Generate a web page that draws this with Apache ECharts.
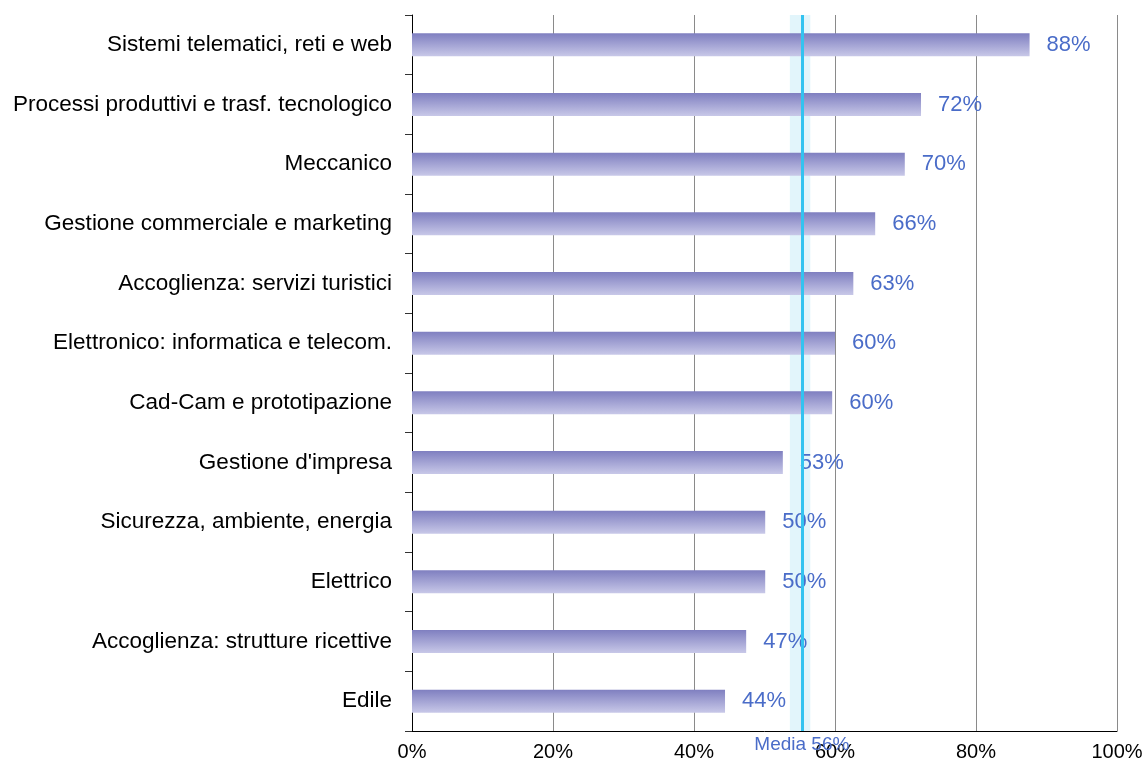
<!DOCTYPE html>
<html>
<head>
<meta charset="utf-8">
<script src="https://cdn.jsdelivr.net/npm/echarts@6/dist/echarts.min.js"></script>
<style>
  html, body { margin: 0; padding: 0; background: #fff; }
  #chart { width: 1142px; height: 762px; }
</style>
</head>
<body>
<div id="chart"></div>
<script>
  // dati
  const categories = [
    'Sistemi telematici, reti e web',
    'Processi produttivi e trasf. tecnologico',
    'Meccanico',
    'Gestione commerciale e marketing',
    'Accoglienza: servizi turistici',
    'Elettronico: informatica e telecom.',
    'Cad-Cam e prototipazione',
    "Gestione d'impresa",
    'Sicurezza, ambiente, energia',
    'Elettrico',
    'Accoglienza: strutture ricettive',
    'Edile'
  ]
  const values = [87.6, 72.2, 69.9, 65.7, 62.6, 60.0, 59.6, 52.6, 50.1, 50.1, 47.4, 44.4]
  const xTicks = [0, 20, 40, 60, 80, 100]
  const mediaValue = 55.3
  const mediaLabel = 'Media 56%'
  const mediaBand = [53.6, 56.5]

  const font = 'Liberation Sans, Arial, sans-serif'
  const chart = echarts.init(document.getElementById('chart'))

  chart.setOption({
      animation: false,
      grid: {
          left: 412,
          right: 25,
          top: 15,
          bottom: 31,
          containLabel: false,
          outerBoundsMode: 'none'
      },
      xAxis: {
          type: 'value',
          min: xTicks[0],
          max: xTicks[xTicks.length - 1],
          interval: 20,
          axisLine: { show: true, lineStyle: { color: '#000', width: 1 } },
          axisTick: { show: false },
          axisLabel: {
              color: '#000',
              fontFamily: font,
              fontSize: 20,
              margin: 11,
              formatter: v => v + '%'
          },
          splitLine: { show: true, lineStyle: { color: '#8a8a8a', width: 1 } }
      },
      yAxis: {
          type: 'category',
          inverse: true,
          data: categories,
          axisLine: { show: true, lineStyle: { color: '#000', width: 1 } },
          axisTick: { show: true, length: 7, lineStyle: { color: '#333' } },
          axisLabel: {
              color: '#000',
              fontFamily: font,
              fontSize: 22.5,
              margin: 20
          }
      },
      series: [{
          type: 'bar',
          data: values,
          barWidth: 23,
          itemStyle: {
              color: new echarts.graphic.LinearGradient(0, 0, 0, 1, [
                  { offset: 0, color: '#7f7fc0' },
                  { offset: 1, color: '#c8c8e8' }
              ])
          },
          label: {
              show: true,
              position: 'right',
              distance: 17,
              color: '#4a6cc8',
              fontFamily: font,
              fontSize: 22,
              formatter: p => Math.round(p.value) + '%'
          },
          markArea: {
              silent: true,
              itemStyle: { color: 'rgba(190, 232, 246, 0.45)' },
              data: [[{ xAxis: mediaBand[0] }, { xAxis: mediaBand[1] }]]
          },
          markLine: {
              silent: true,
              symbol: 'none',
              lineStyle: { color: '#33c3f0', width: 3, type: 'solid' },
              label: {
                  show: true,
                  position: 'end',
                  distance: 4,
                  formatter: mediaLabel,
                  color: '#4a6cc8',
                  fontFamily: font,
                  fontSize: 19
              },
              data: [{ xAxis: mediaValue }]
          }
      }]
  })
</script>
</body>
</html>
